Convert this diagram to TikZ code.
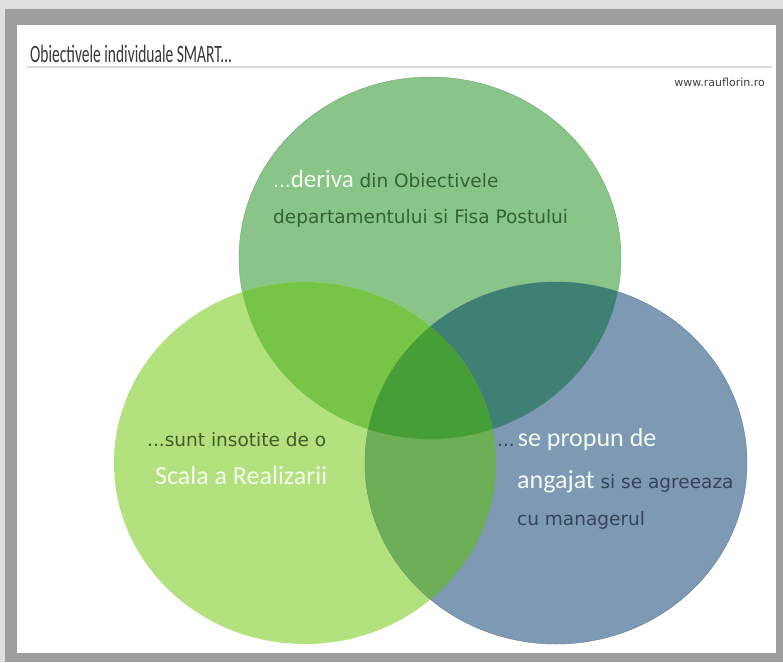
\documentclass[tikz,border=0pt]{standalone}
\usepackage{fontspec}
\setmainfont{DejaVu Sans}
\newfontfamily\lightfont{Carlito}
\usepackage{tikz}

\definecolor{frame}{RGB}{158,158,158}
\definecolor{topc}{RGB}{137,196,137}
\definecolor{leftc}{RGB}{178,225,126}
\definecolor{rightc}{RGB}{126,153,180}
\definecolor{tlc}{RGB}{118,197,70}
\definecolor{trc}{RGB}{62,128,116}
\definecolor{lrc}{RGB}{108,175,86}
\definecolor{midc}{RGB}{70,158,55}
\definecolor{topdark}{RGB}{52,98,56}
\definecolor{leftdark}{RGB}{64,92,44}
\definecolor{rightdark}{RGB}{54,68,88}
\definecolor{pale}{RGB}{244,250,240}

\begin{document}
\begin{tikzpicture}[x=1pt,y=-1pt,
	txt/.style={anchor=base west,inner sep=0pt,font=\fontsize{18.5}{20}\selectfont},
	big/.style={font=\fontsize{26}{28}\lightfont}]
	%\draw[help lines] (0,0) grid[step=50pt] (783,662);
	\useasboundingbox (0,0) rectangle (783,662);
	\fill[gray!25] (0,0) rectangle (783,662);
	\fill[frame] (5,9) rectangle (783,662);
	\fill[white] (17,25) rectangle (776,653);
	\node[anchor=base west,inner sep=0pt,text=black!78] (title) at (30,62)
		{\scalebox{0.62}[1]{\fontsize{25}{25}\lightfont Obiectivele individuale SMART...}};
	\draw[black!15,line width=1.2pt] (27,67) -- (772,67);
	\node[anchor=base east,inner sep=0pt,text=black!75,font=\fontsize{11}{12}\selectfont] (web) at (765,86) {www.rauflorin.ro};

	\coordinate (T) at (430,258);
	\coordinate (L) at (305,463);
	\coordinate (R) at (556,463);
	\filldraw[fill=topc,draw=topc!85!black] (T) ellipse (191pt and 181pt);
	\fill[leftc] (L) ellipse (191pt and 181pt);
	\filldraw[fill=rightc,draw=rightc!80!black] (R) ellipse (191pt and 181pt);
	\begin{scope}
		\clip (T) ellipse (191pt and 181pt);
		\fill[tlc] (L) ellipse (191pt and 181pt);
		\fill[trc] (R) ellipse (191pt and 181pt);
	\end{scope}
	\begin{scope}
		\clip (L) ellipse (191pt and 181pt);
		\fill[lrc] (R) ellipse (191pt and 181pt);
		\clip (T) ellipse (191pt and 181pt);
		\fill[midc] (R) ellipse (191pt and 181pt);
	\end{scope}

	\node[txt,text=topdark] (t1) at (273,187)
		{\textcolor{pale}{...}{\color{pale}\fontsize{25}{26}\lightfont deriva} din Obiectivele};
	\node[txt,text=topdark] (t2) at (273,223) {departamentului si Fisa Postului};
	\node[txt,text=leftdark] (l1) at (147,446) {...sunt insotite de o};
	\node[txt,big,text=pale] (l2) at (155,484) {Scala a Realizarii};
	\node[txt,text=rightdark] (r1) at (497,446) {...\,{\color{pale}\fontsize{26}{28}\lightfont se propun de}};
	\node[txt,text=rightdark] (r2) at (517,488) {{\color{pale}\fontsize{26}{28}\lightfont angajat} si se agreeaza};
	\node[txt,text=rightdark] (r3) at (517,525) {cu managerul};
\end{tikzpicture}
\end{document}
